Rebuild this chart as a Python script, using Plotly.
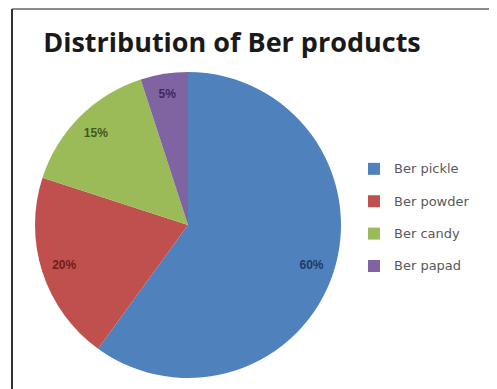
import plotly.graph_objects as go

title_text = "Distribution of Ber products"
categories = ["Ber pickle", "Ber powder", "Ber candy", "Ber papad"]
shares = [60, 20, 15, 5]

slice_colors = ["#4F81BD", "#C0504D", "#9BBB59", "#8064A2"]
label_colors = ["#1F3A66", "#6E1E1C", "#3E5A1C", "#3B2A5A"]

# figure is offset by the 8px page margin of the html body
W, H = 497, 389
cx, cy, R = 180, 217, 153
dom_x = [(cx - R) / W, (cx + R) / W]
dom_y = [1 - (cy + R) / H, 1 - (cy - R) / H]

legend_labels = ["<span style='font-size:13px'>" + c + "</span><br> " for c in categories]

fig = go.Figure()
# main pie (colours + legend)
fig.add_trace(go.Pie(
    labels=legend_labels,
    values=shares,
    sort=False,
    direction="clockwise",
    rotation=0,
    marker=dict(colors=slice_colors, line=dict(width=0)),
    textinfo="none",
    domain=dict(x=dom_x, y=dom_y),
    showlegend=True,
))
# transparent ring carrying the labels near the outer edge
fig.add_trace(go.Pie(
    labels=legend_labels,
    values=shares,
    sort=False,
    direction="clockwise",
    rotation=0,
    hole=0.7,
    marker=dict(colors=["rgba(0,0,0,0)"] * 4, line=dict(width=0)),
    texttemplate="<b>%{value}%</b>",
    textposition="inside",
    insidetextorientation="horizontal",
    insidetextfont=dict(family="Liberation Sans, Arial", size=12, color=label_colors),
    domain=dict(x=dom_x, y=dom_y),
    showlegend=False,
    hoverinfo="skip",
))

fig.update_layout(
    width=W, height=H,
    autosize=False,
    margin=dict(l=0, r=0, t=0, b=0),
    paper_bgcolor="white",
    plot_bgcolor="white",
    title=dict(
        text="<b>" + title_text + "</b>",
        x=224 / W, xanchor="center",
        y=1 - 35 / H, yanchor="middle",
        font=dict(family="Open Sans", size=27, color="#1a1a1a"),
    ),
    legend=dict(
        x=346 / W, xanchor="left",
        y=1 - 147 / H, yanchor="top",
        valign="top",
        font=dict(family="DejaVu Sans", size=11.3, color="#595959"),
        bgcolor="rgba(0,0,0,0)",
    ),
    shapes=[
        dict(type="line", xref="paper", yref="paper",
             x0=4 / W, x1=1, y0=1 - 1 / H, y1=1 - 1 / H,
             line=dict(color="#8c8c8c", width=2)),
        dict(type="line", xref="paper", yref="paper",
             x0=4 / W, x1=4 / W, y0=0, y1=1 - 1 / H,
             line=dict(color="#333333", width=2)),
    ],
)

fig.write_html("out.html")
